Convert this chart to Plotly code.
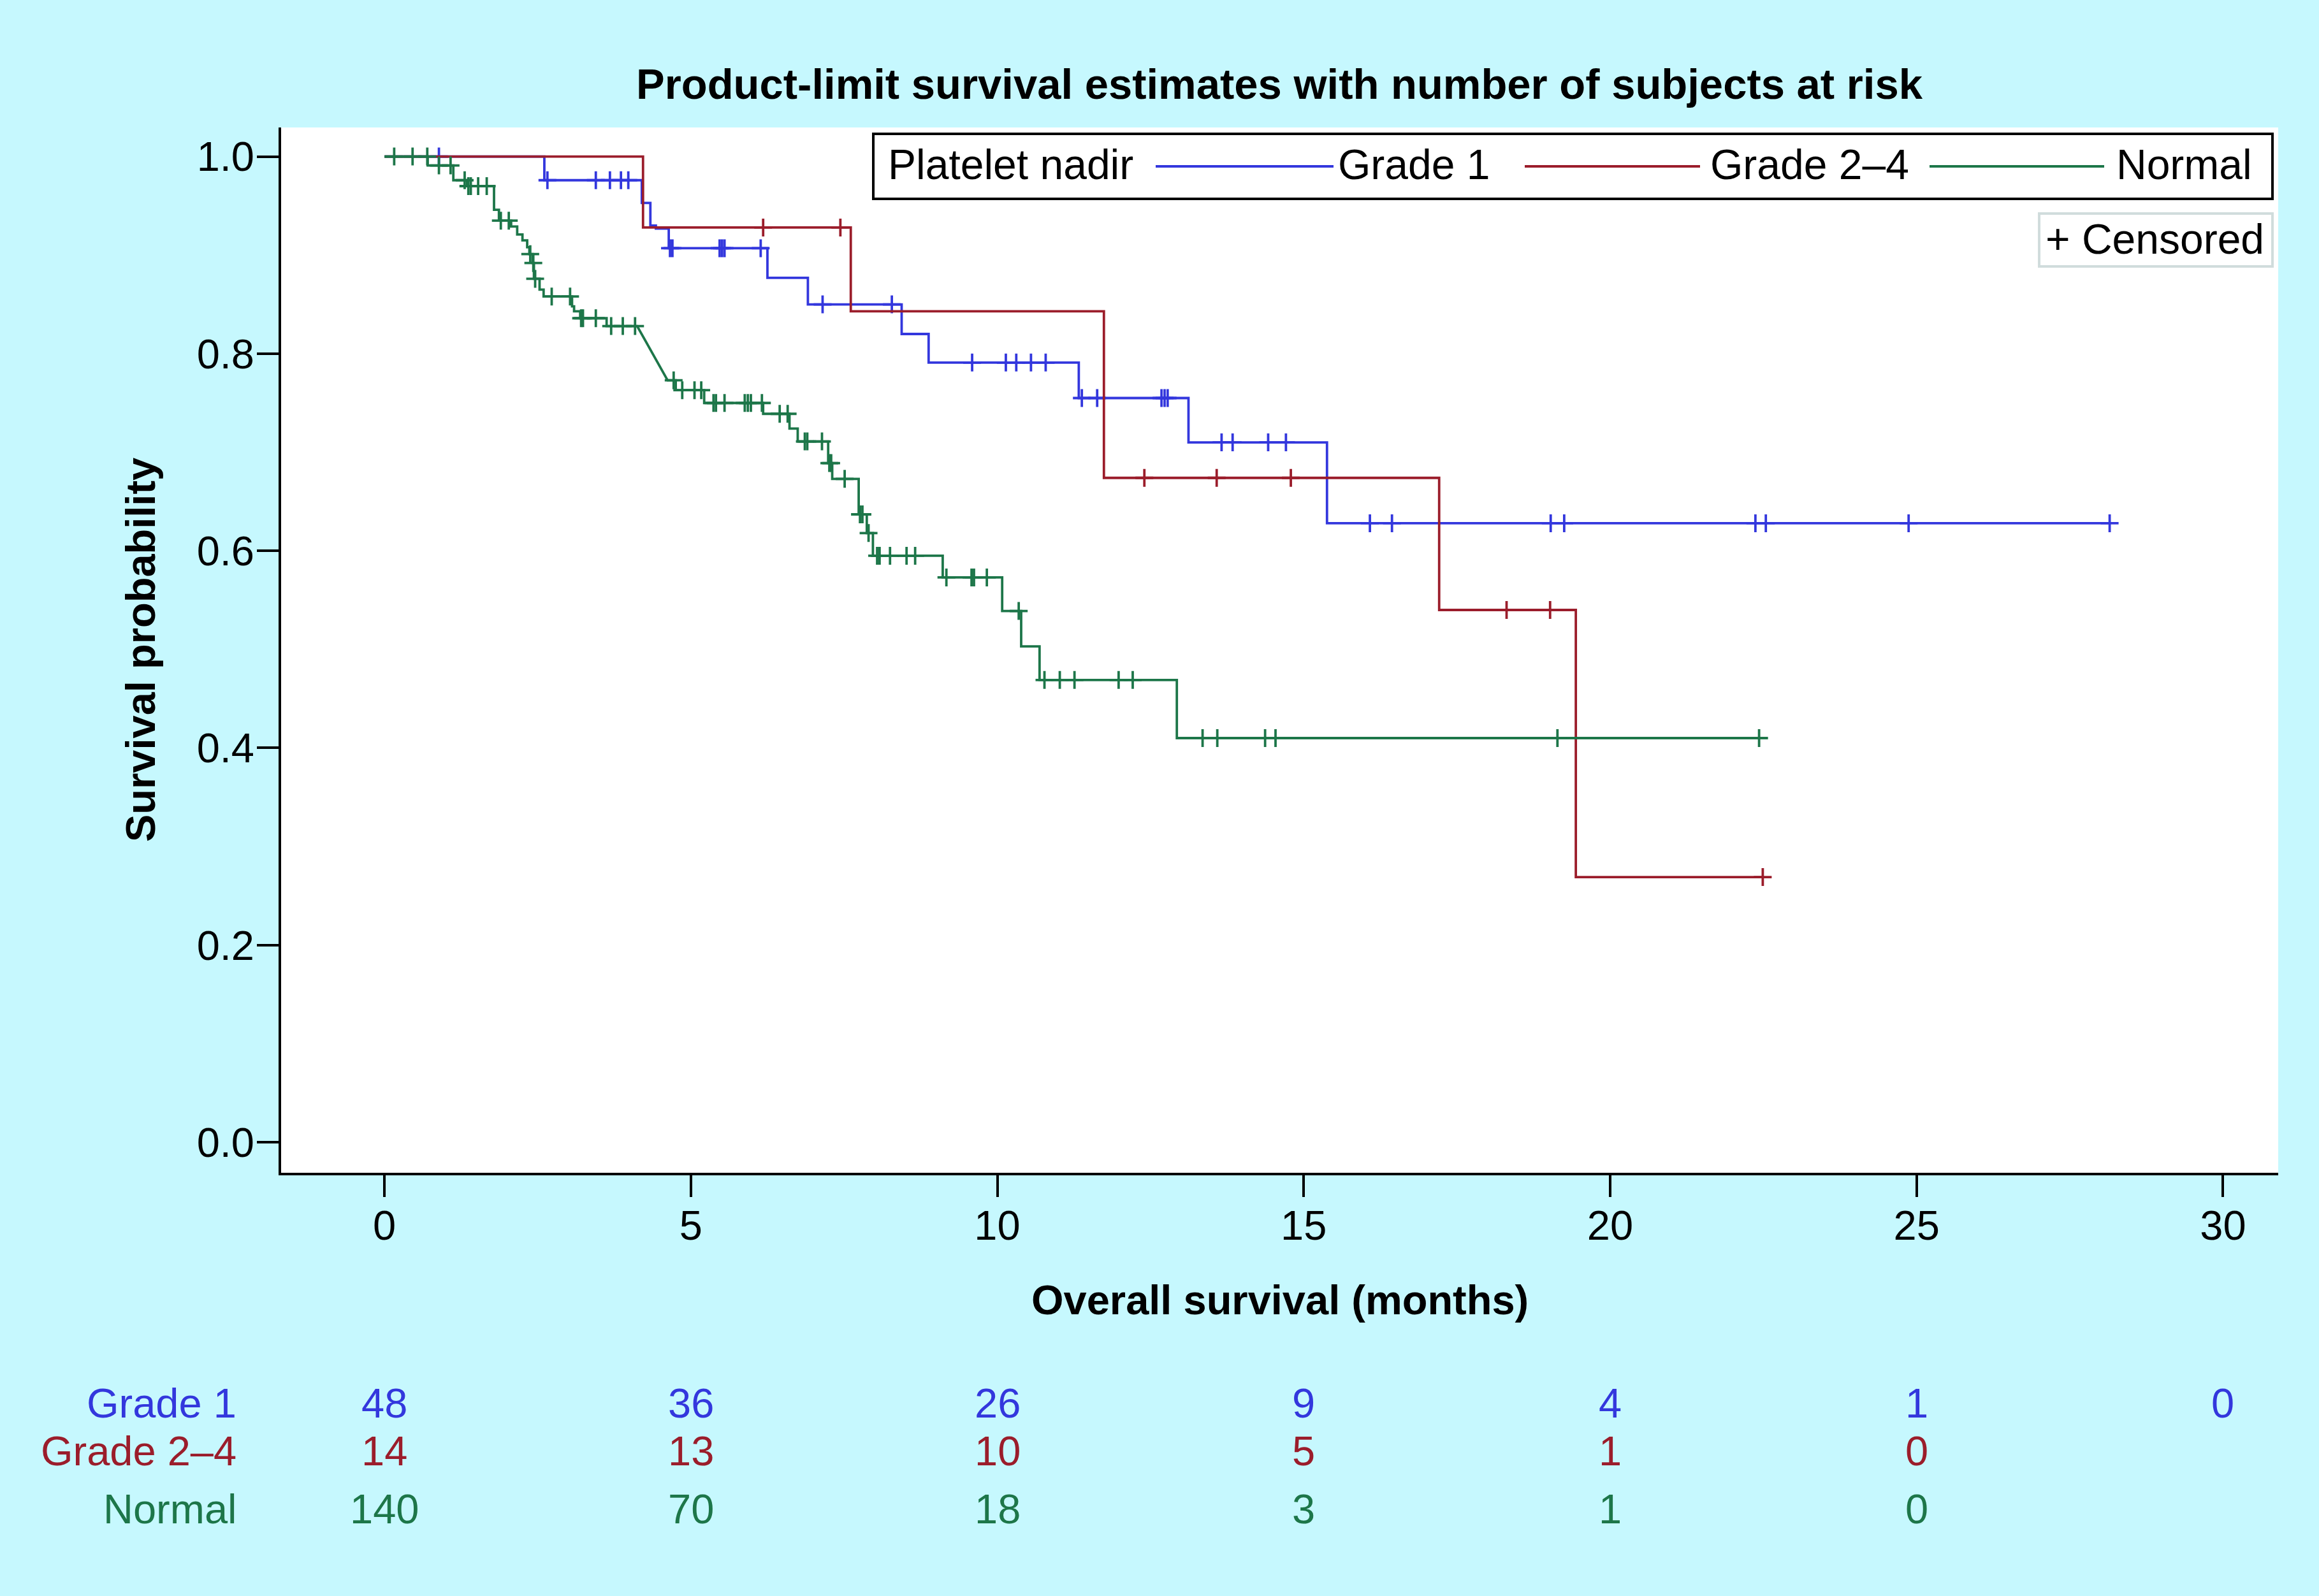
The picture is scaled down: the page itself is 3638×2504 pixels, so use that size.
import plotly.graph_objects as go

# ---------------- data ----------------
groups = ["Grade 1", "Grade 2\u20134", "Normal"]

# Grade 1 (step times and survival after each step)
g1_time = [0, 2.61, 4.20, 4.34, 4.43, 4.64, 6.25, 6.91, 8.44, 8.88, 11.33, 13.12, 15.38]
g1_surv = [1.0, 0.976, 0.953, 0.930, 0.927, 0.907, 0.877, 0.850, 0.820, 0.791, 0.755, 0.710, 0.628]
g1_end = 28.15
g1_cens = [0.89, 2.66, 3.45, 3.68, 3.86, 3.98, 4.66, 4.70, 5.47, 5.51, 5.55, 6.14, 7.15, 8.28,
           9.59, 10.14, 10.31, 10.55, 10.79, 11.38, 11.63, 12.68, 12.73, 12.78, 13.66, 13.84,
           14.42, 14.71, 16.08, 16.44, 19.03, 19.25, 22.37, 22.54, 24.87, 28.15]

# Grade 2-4
g2_time = [0, 4.22, 7.61, 11.74, 17.21, 19.44]
g2_surv = [1.0, 0.928, 0.843, 0.674, 0.540, 0.269]
g2_end = 22.49
g2_cens = [6.18, 7.44, 12.40, 13.58, 14.79, 18.31, 19.02, 22.49]

# Normal
nm_time = [0, 0.707, 1.125, 1.35, 1.789, 1.869, 2.068, 2.167, 2.253, 2.330, 2.366, 2.419, 2.440,
           2.532, 2.598, 3.062, 3.095, 3.195, 3.626, 4.124, 4.621, 4.754, 5.218, 6.180, 6.610,
           6.744, 7.241, 7.307, 7.739, 7.871, 7.971, 9.11, 10.08, 10.39, 10.69, 12.93]
nm_surv = [1.0, 0.991, 0.976, 0.970, 0.946, 0.935, 0.929, 0.921, 0.915, 0.908, 0.901, 0.892, 0.876,
           0.865, 0.858, 0.848, 0.843, 0.836, 0.828, 0.828, 0.773, 0.763, 0.750, 0.739, 0.724,
           0.711, 0.689, 0.673, 0.637, 0.618, 0.595, 0.573, 0.539, 0.503, 0.469, 0.410]
nm_slope = [t == 4.621 for t in nm_time]   # one drop drawn as a sloped segment
nm_end = 22.43
nm_cens = [0.16, 0.46, 0.70, 0.89, 1.08, 1.31, 1.37, 1.41, 1.53, 1.67, 1.90, 2.03, 2.38, 2.43, 2.46,
           2.73, 3.03, 3.21, 3.24, 3.45, 3.70, 3.89, 4.09, 4.72, 4.86, 5.06, 5.17, 5.37, 5.41, 5.55,
           5.88, 5.93, 5.98, 6.16, 6.45, 6.58, 6.86, 6.90, 7.14, 7.26, 7.29, 7.51, 7.76, 7.80, 7.90,
           8.04, 8.08, 8.25, 8.52, 8.66, 9.17, 9.58, 9.62, 9.83, 10.35, 10.77, 11.02, 11.26, 11.98,
           12.21, 13.35, 13.59, 14.37, 14.54, 19.14, 22.43]

# numbers at risk
risk_times = [0, 5, 10, 15, 20, 25, 30]
risk_g1 = [48, 36, 26, 9, 4, 1, 0]
risk_g2 = [14, 13, 10, 5, 1, 0]
risk_nm = [140, 70, 18, 3, 1, 0]

x_ticks = [0, 5, 10, 15, 20, 25, 30]
y_ticks = [0.0, 0.2, 0.4, 0.6, 0.8, 1.0]

# ---------------- styling ----------------
W, H = 3638, 2504
L, R, T, B = 441, 3574, 200, 1840
BLUE = "#3337DD"
RED = "#9B1D2B"
GREEN = "#1D7649"
BG = "#C6F8FE"
FONT = "Liberation Sans, Arial, sans-serif"
FS = 65
LW = 3.8


def px(X):
    return (X - L) / (R - L)


def py(Y):
    return (B - Y) / (B - T)


def km_path(times, surv, end, slope=None):
    xs, ys = [times[0]], [surv[0]]
    for i in range(1, len(times)):
        if slope is not None and slope[i]:
            xs.append(times[i]); ys.append(surv[i])
        else:
            xs += [times[i], times[i]]; ys += [surv[i - 1], surv[i]]
    xs.append(end); ys.append(surv[-1])
    return xs, ys


def surv_at(times, surv, t):
    s = surv[0]
    for ti, si in zip(times, surv):
        if ti <= t:
            s = si
    return s


fig = go.Figure()
series = [
    (g1_time, g1_surv, g1_end, g1_cens, None, BLUE),
    (g2_time, g2_surv, g2_end, g2_cens, None, RED),
    (nm_time, nm_surv, nm_end, nm_cens, nm_slope, GREEN),
]
for name, (tt, ss, end, cens, slope, col) in zip(groups, series):
    xs, ys = km_path(tt, ss, end, slope)
    fig.add_trace(go.Scatter(x=xs, y=ys, mode="lines", name=name,
                             line=dict(color=col, width=LW), showlegend=False,
                             hoverinfo="skip"))
    fig.add_trace(go.Scatter(x=cens, y=[surv_at(tt, ss, c) for c in cens], mode="markers",
                             name=name + " censored", showlegend=False,
                             marker=dict(symbol="cross-thin", size=20, color=col,
                                         line=dict(color=col, width=LW))))

axis_common = dict(showline=True, linecolor="black", linewidth=4, ticks="outside",
                   ticklen=34, tickwidth=4, tickcolor="black", showgrid=False,
                   zeroline=False, tickfont=dict(family=FONT, size=FS, color="black"))
fig.update_xaxes(range=[-1.685, 30.9], tickvals=x_ticks, ticktext=[str(v) for v in x_ticks],
                 ticklabelstandoff=-11, **axis_common)
fig.update_yaxes(range=[-0.031, 1.0295], tickvals=y_ticks, tickformat=".1f",
                 ticklabelstandoff=-9, **axis_common)

ann = []
shapes = []
# title
ann.append(dict(text="<b>Product-limit survival estimates with number of subjects at risk</b>",
                xref="paper", yref="paper", x=0.5, y=py(131), xanchor="center", yanchor="middle",
                showarrow=False, font=dict(family=FONT, size=67, color="black")))
# axis titles
ann.append(dict(text="<b>Overall survival (months)</b>", xref="paper", yref="paper", x=0.5,
                y=py(2039), xanchor="center", yanchor="middle", showarrow=False,
                font=dict(family=FONT, size=FS, color="black")))
ann.append(dict(text="<b>Survival probability</b>", xref="paper", yref="paper", x=px(220),
                y=0.5, xanchor="center", yanchor="middle", textangle=-90, showarrow=False,
                font=dict(family=FONT, size=FS, color="black")))

# legend box
shapes.append(dict(type="rect", xref="paper", yref="paper", x0=px(1370), x1=px(3565),
                   y0=py(312), y1=py(210), line=dict(color="black", width=4),
                   fillcolor="white", layer="above"))
LEG_Y = 258
LFS = 66
ann.append(dict(text="Platelet nadir", xref="paper", yref="paper", x=px(1391), y=py(LEG_Y),
                xanchor="left", yanchor="middle", showarrow=False,
                font=dict(family=FONT, size=LFS, color="black")))
legend_items = [(1813, 2092, 2097, groups[0], BLUE), (2392, 2667, 2681, groups[1], RED),
                (3027, 3301, 3318, groups[2], GREEN)]
for x0, x1, xt, lab, col in legend_items:
    shapes.append(dict(type="line", xref="paper", yref="paper", x0=px(x0), x1=px(x1),
                       y0=py(261), y1=py(261), line=dict(color=col, width=LW), layer="above"))
    ann.append(dict(text=lab, xref="paper", yref="paper", x=px(xt), y=py(LEG_Y),
                    xanchor="left", yanchor="middle", showarrow=False,
                    font=dict(family=FONT, size=LFS, color="black")))
# censored box
shapes.append(dict(type="rect", xref="paper", yref="paper", x0=px(3199), x1=px(3565),
                   y0=py(418), y1=py(335), line=dict(color="#D0DCDC", width=4),
                   fillcolor="white", layer="above"))
ann.append(dict(text="+ Censored", xref="paper", yref="paper", x=px(3207), y=py(375),
                xanchor="left", yanchor="middle", showarrow=False,
                font=dict(family=FONT, size=LFS, color="black")))

# numbers at risk
rows = [(risk_g1, BLUE, 2201), (risk_g2, RED, 2276), (risk_nm, GREEN, 2367)]
for name, (vals, col, Y) in zip(groups, rows):
    ann.append(dict(text=name, xref="paper", yref="paper", x=px(373), y=py(Y),
                    xanchor="right", yanchor="middle", showarrow=False,
                    font=dict(family=FONT, size=FS, color=col)))
    for t, v in zip(risk_times, vals):
        ann.append(dict(text=str(v), xref="x", yref="paper", x=t, y=py(Y),
                        xanchor="center", yanchor="middle", showarrow=False,
                        font=dict(family=FONT, size=FS, color=col)))

fig.update_layout(width=W, height=H, paper_bgcolor=BG, plot_bgcolor="white",
                  margin=dict(l=L, r=W - R, t=T, b=H - B, pad=0),
                  annotations=ann, shapes=shapes, showlegend=False,
                  font=dict(family=FONT, size=FS, color="black"))

fig.write_html("out.html", config={"displayModeBar": False},
               post_script="document.body.style.margin='0px';")
